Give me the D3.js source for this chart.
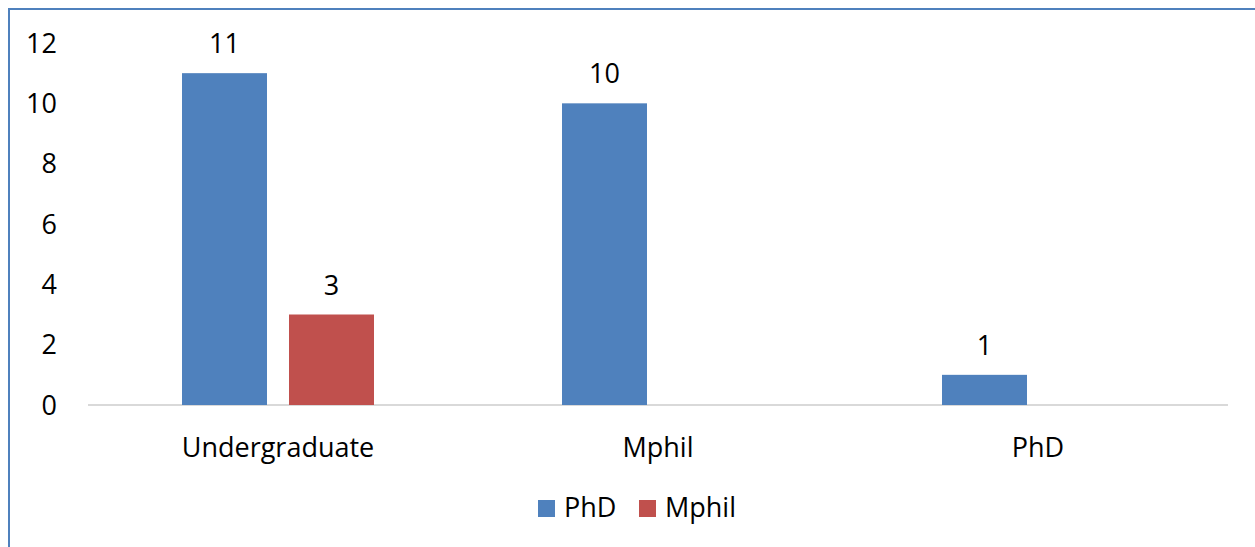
<!DOCTYPE html>
<html><head><meta charset="utf-8">
<script src="https://cdn.jsdelivr.net/npm/d3@7"></script>
<style>body{margin:0;background:#fff}svg{display:block}text{font-family:"Open Sans","Liberation Sans",sans-serif;fill:#000}</style>
</head><body>
<script>
const categories = ["Undergraduate", "Mphil", "PhD"];
const seriesNames = ["PhD", "Mphil"];
const phdValues = [11, 10, 1];
const mphilValues = [3, null, null];
const yTicks = [0, 2, 4, 6, 8, 10, 12];
const colors = ["#4f81bd", "#c0504d"];

const W = 1255, H = 547;
const FONT = '"Open Sans","Liberation Sans",sans-serif';
const FS = 27;
const svg = d3.select("body").append("svg").attr("width", W).attr("height", H);

// outer frame
svg.append("path").attr("d", `M9,${H} V9 H${W}`).attr("fill", "none").attr("stroke", "#4f81bd").attr("stroke-width", 2);

const x0 = d3.scaleBand().domain(categories).range([88, 1228]);
const x1 = d3.scaleBand().domain(seriesNames)
  .range([x0.bandwidth()/2 - 96, x0.bandwidth()/2 + 96]).paddingInner(22/107);
const y = d3.scaleLinear().domain([0, 12]).range([405, 43]);

const yAxis = svg.append("g").attr("transform", "translate(57,9)")
  .call(d3.axisLeft(y).tickValues(yTicks).tickSize(0).tickPadding(0));
yAxis.select(".domain").remove();
yAxis.selectAll("text").attr("font-size", FS).attr("dy", null).style("font-family", FONT);

svg.append("line").attr("x1", 88).attr("x2", 1228).attr("y1", y(0)).attr("y2", y(0))
  .attr("stroke", "#d9d9d9").attr("stroke-width", 2);

const data = [phdValues, mphilValues];
seriesNames.forEach((s, si) => {
  categories.forEach((c, ci) => {
    const v = data[si][ci];
    if (v == null) return;
    const bx = x0(c) + x1(s);
    svg.append("rect").attr("x", bx).attr("width", x1.bandwidth())
      .attr("y", y(v)).attr("height", y(0) - y(v)).attr("fill", colors[si]);
    svg.append("text").attr("x", bx + x1.bandwidth()/2).attr("y", y(v) - 20)
      .attr("text-anchor", "middle").attr("font-size", FS).text(v);
  });
});

const xAxis = svg.append("g").attr("transform", `translate(0,${y(0)})`)
  .call(d3.axisBottom(x0).tickSize(0).tickPadding(0));
xAxis.select(".domain").remove();
xAxis.selectAll("text").attr("font-size", FS).attr("dy", null).attr("y", 52).style("font-family", FONT);

const legX = [538, 639];
seriesNames.forEach((s, i) => {
  svg.append("rect").attr("x", legX[i]).attr("y", 500).attr("width", 17).attr("height", 17).attr("fill", colors[i]);
  svg.append("text").attr("x", legX[i] + 26).attr("y", 517).attr("font-size", FS).text(s);
});
</script>
</body></html>
